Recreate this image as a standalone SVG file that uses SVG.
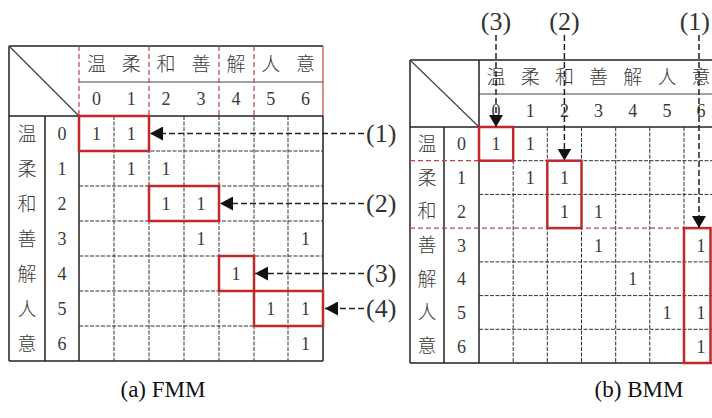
<svg xmlns="http://www.w3.org/2000/svg" width="712" height="418" viewBox="0 0 712 418">
<defs>
<marker id="ahL" viewBox="0 0 13 14" refX="13" refY="7" markerWidth="13" markerHeight="14" orient="auto" markerUnits="userSpaceOnUse">
<path d="M0,0 L13,7 L0,14 Z" fill="#111"/>
</marker>
<marker id="ahD" viewBox="0 0 12 14" refX="12" refY="7" markerWidth="12" markerHeight="14" orient="auto" markerUnits="userSpaceOnUse">
<path d="M0,0 L12,7 L0,14 Z" fill="#111"/>
</marker>
</defs>
<style>
.solid{stroke:#222;stroke-width:1.5;fill:none}
.thin{stroke:#444;stroke-width:1.2;fill:none}
.grid{stroke:#333;stroke-width:1;stroke-dasharray:4 1.5;fill:none}
.rdash{stroke:#c4404a;stroke-width:1.2;stroke-dasharray:5 3;fill:none}
.rline{stroke:#c4404a;stroke-width:1.2;fill:none}
.box{stroke:#c0282d;stroke-width:2.5;fill:none}
.arr{stroke:#222;stroke-width:1.5;stroke-dasharray:6 3;fill:none}
.cjk{font-family:"Noto Sans CJK SC","Noto Sans CJK JP",sans-serif;font-weight:300;font-size:19px;fill:#3a3a3a;text-anchor:middle}
.num{font-family:"Liberation Serif",serif;font-size:18px;fill:#3a3a3a;text-anchor:middle}
.lab{font-family:"Liberation Serif",serif;font-size:26px;fill:#333}
.cap{font-family:"Liberation Serif",serif;font-size:23px;fill:#111;text-anchor:middle}
</style>
<rect width="712" height="418" fill="#fff"/>

<g id="fmm-table">
<line class="solid" x1="9" y1="46" x2="323" y2="46"/>
<line class="solid" x1="9" y1="46" x2="9" y2="361"/>
<line class="solid" x1="9" y1="361" x2="323" y2="361"/>
<line class="rline" x1="323" y1="46" x2="323" y2="116"/>
<line class="solid" x1="323" y1="116" x2="323" y2="361"/>
<line class="thin" x1="79" y1="82" x2="323" y2="82"/>
<line class="solid" x1="9" y1="116" x2="323" y2="116"/>
<line class="thin" x1="9" y1="46" x2="79" y2="116"/>
<line class="rdash" x1="79" y1="46" x2="79" y2="116"/>
<line class="rdash" x1="149" y1="46" x2="149" y2="116"/>
<line class="rdash" x1="219" y1="46" x2="219" y2="116"/>
<line class="rdash" x1="254" y1="46" x2="254" y2="116"/>
<line class="solid" x1="79" y1="116" x2="79" y2="361"/>
<line class="solid" x1="45" y1="116" x2="45" y2="361"/>
<path class="grid" d="M114,116V361M149,116V361M184,116V361M219,116V361M254,116V361M288,116V361"/>
<path class="grid" d="M79,151H323M79,186H323M79,221H323M79,256H323M79,291H323M79,326H323"/>
<g class="cjk">
<text x="96.4" y="71">温</text><text x="131.3" y="71">柔</text><text x="166.1" y="71">和</text><text x="201" y="71">善</text><text x="235.9" y="71">解</text><text x="270.7" y="71">人</text><text x="305.6" y="71">意</text>
<text x="27" y="140.5">温</text><text x="27" y="175.5">柔</text><text x="27" y="210.5">和</text><text x="27" y="245.5">善</text><text x="27" y="280.5">解</text><text x="27" y="315.5">人</text><text x="27" y="350.5">意</text>
</g>
<g class="num">
<text x="96.4" y="105">0</text><text x="131.3" y="105">1</text><text x="166.1" y="105">2</text><text x="201" y="105">3</text><text x="235.9" y="105">4</text><text x="270.7" y="105">5</text><text x="305.6" y="105">6</text>
<text x="62" y="140">0</text><text x="62" y="175">1</text><text x="62" y="210">2</text><text x="62" y="245">3</text><text x="62" y="280">4</text><text x="62" y="315">5</text><text x="62" y="350">6</text>
<text x="96.4" y="140">1</text><text x="131.3" y="140">1</text>
<text x="131.3" y="175">1</text><text x="166.1" y="175">1</text>
<text x="166.1" y="210">1</text><text x="201" y="210">1</text>
<text x="201" y="245">1</text><text x="305.6" y="245">1</text>
<text x="235.9" y="280">1</text>
<text x="270.7" y="315">1</text><text x="305.6" y="315">1</text>
<text x="305.6" y="350">1</text>
</g>
<rect class="box" x="79" y="116" width="70" height="35"/>
<rect class="box" x="149" y="186" width="70" height="35"/>
<rect class="box" x="219" y="256" width="35" height="35"/>
<rect class="box" x="254" y="291" width="69" height="35"/>
</g>

<g id="bmm-table">
<line class="solid" x1="410" y1="60" x2="712" y2="60"/>
<line class="solid" x1="410" y1="60" x2="410" y2="363"/>
<line class="solid" x1="410" y1="363" x2="712" y2="363"/>
<line class="thin" x1="479" y1="94" x2="712" y2="94"/>
<line class="solid" x1="410" y1="127" x2="712" y2="127"/>
<line class="thin" x1="410" y1="60" x2="479" y2="127"/>
<line class="solid" x1="479" y1="60" x2="479" y2="363"/>
<line class="solid" x1="444" y1="127" x2="444" y2="363"/>
<path class="grid" d="M513.2,127V363M547.3,127V363M581.5,127V363M615.7,127V363M649.8,127V363M684,127V363"/>
<path class="grid" d="M479,160.7H712M479,194.4H712M479,261.9H712M479,295.6H712M479,329.3H712"/>
<line class="rdash" x1="410" y1="160.7" x2="479" y2="160.7"/>
<line class="rdash" x1="410" y1="228.1" x2="712" y2="228.1"/>
<g class="cjk">
<text x="496.1" y="84">温</text><text x="530.3" y="84">柔</text><text x="564.4" y="84">和</text><text x="598.6" y="84">善</text><text x="632.8" y="84">解</text><text x="666.9" y="84">人</text><text x="701.1" y="84">意</text>
<text x="427" y="150.9">温</text><text x="427" y="184.6">柔</text><text x="427" y="218.3">和</text><text x="427" y="252">善</text><text x="427" y="285.7">解</text><text x="427" y="319.4">人</text><text x="427" y="353.1">意</text>
</g>
<g class="num">
<text x="496.1" y="117">0</text><text x="530.3" y="117">1</text><text x="564.4" y="117">2</text><text x="598.6" y="117">3</text><text x="632.8" y="117">4</text><text x="666.9" y="117">5</text><text x="701.1" y="117">6</text>
<text x="461.5" y="150.4">0</text><text x="461.5" y="184.1">1</text><text x="461.5" y="217.8">2</text><text x="461.5" y="251.5">3</text><text x="461.5" y="285.2">4</text><text x="461.5" y="318.9">5</text><text x="461.5" y="352.6">6</text>
<text x="496.1" y="150.4">1</text><text x="530.3" y="150.4">1</text>
<text x="530.3" y="184.1">1</text><text x="564.4" y="184.1">1</text>
<text x="564.4" y="217.8">1</text><text x="598.6" y="217.8">1</text>
<text x="598.6" y="251.5">1</text><text x="701.1" y="251.5">1</text>
<text x="632.8" y="285.2">1</text>
<text x="666.9" y="318.9">1</text><text x="701.1" y="318.9">1</text>
<text x="701.1" y="352.6">1</text>
</g>
<rect class="box" x="479" y="127" width="34.2" height="33.7"/>
<rect class="box" x="547.3" y="160.7" width="34.2" height="67.4"/>
<rect class="box" x="684" y="228.1" width="26.5" height="134.9"/>
</g>

<g id="connectors">
<line class="arr" x1="364" y1="133.5" x2="150" y2="133.5" marker-end="url(#ahL)"/>
<line class="arr" x1="364" y1="203.5" x2="220" y2="203.5" marker-end="url(#ahL)"/>
<line class="arr" x1="364" y1="273.5" x2="255" y2="273.5" marker-end="url(#ahL)"/>
<line class="arr" x1="364" y1="308.5" x2="325" y2="308.5" marker-end="url(#ahL)"/>
<line class="arr" x1="496" y1="35" x2="496" y2="127" marker-end="url(#ahD)"/>
<line class="arr" x1="564.4" y1="35" x2="564.4" y2="160.5" marker-end="url(#ahD)"/>
<line class="arr" x1="699" y1="35" x2="699" y2="228" marker-end="url(#ahD)"/>
</g>

<g id="labels">
<text class="lab" x="366" y="142">(1)</text>
<text class="lab" x="366" y="212">(2)</text>
<text class="lab" x="366" y="282">(3)</text>
<text class="lab" x="366" y="317">(4)</text>
<text class="lab" x="496" y="30" text-anchor="middle">(3)</text>
<text class="lab" x="564.4" y="30" text-anchor="middle">(2)</text>
<text class="lab" x="710" y="30" text-anchor="end">(1)</text>
<text class="cap" x="163" y="397">(a) FMM</text>
<text class="cap" x="639" y="397">(b) BMM</text>
</g>
</svg>
